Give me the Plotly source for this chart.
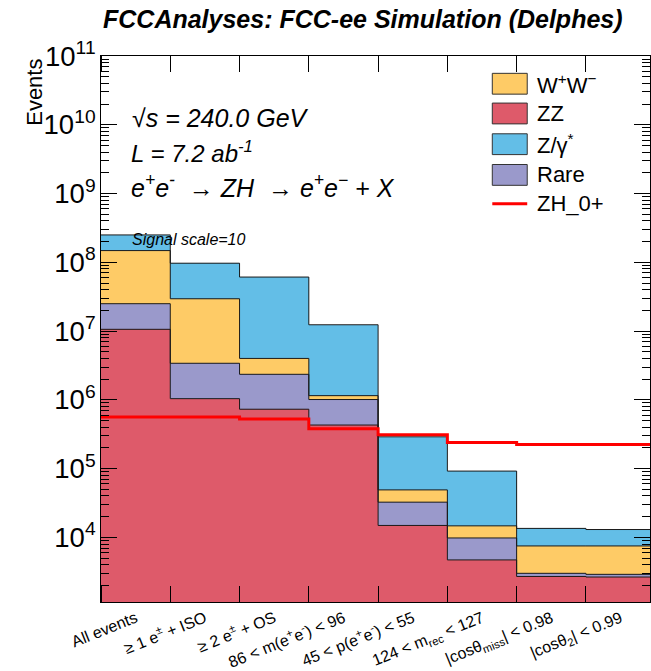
import numpy as np
import plotly.graph_objects as go

# ---------------- data ----------------
cut_labels = [
    "All events",
    "≥ 1 e<sup>±</sup> + ISO",
    "≥ 2 e<sup>±</sup> + OS",
    "86 &lt; m(e<sup>+</sup>e<sup>-</sup>) &lt; 96",
    "45 &lt; p(e<sup>+</sup>e<sup>-</sup>) &lt; 55",
    "124 &lt; m<sub>rec</sub> &lt; 127",
    "|cosθ<sub>miss</sub>| &lt; 0.98",
    "|cosθ<sub>2</sub>| &lt; 0.99",
]
zz_vals = [1.06e7, 1.04e6, 7.3e5, 4.3e5, 1.49e4, 4.7e3, 2.7e3, 2.65e3]
rare_vals = [1.44e7, 2.36e6, 1.62e6, 5.8e5, 1.76e4, 5.1e3, 3.0e2, 2.5e2]
ww_vals = [1.23e8, 2.61e7, 1.65e6, 1.4e5, 1.65e4, 4.9e3, 4.5e3, 4.6e3]
zgamma_vals = [1.02e8, 6.75e7, 5.7e7, 1.12e7, 2.41e5, 7.73e4, 6.0e3, 5.5e3]
signal_vals = [5.64e5, 5.64e5, 5.27e5, 3.79e5, 3.10e5, 2.40e5, 2.25e5, 2.25e5]

# ---------------- styling ----------------
FONT = "Liberation Sans, Arial, Helvetica, sans-serif"
C_ZZ = "#DE5A6A"
C_RARE = "#9A99CB"
C_WW = "#FECB66"
C_ZG = "#63BEE7"
C_SIG = "#FF0000"

W, H = 651, 671
L, R, T, B = 101, 651, 56, 607


def px(x):
    return (x - L) / (R - L)


def py(y):
    return (B - y) / (B - T)


n = len(cut_labels)
centers = np.arange(n) + 0.5
edges = np.arange(n + 1)

fig = go.Figure()

stack = [("ZZ", zz_vals, C_ZZ), ("Rare", rare_vals, C_RARE),
         ("W+W-", ww_vals, C_WW), ("Z/gamma*", zgamma_vals, C_ZG)]
for name, vals, col in stack:
    fig.add_trace(go.Bar(x=centers, y=vals, width=1, name=name,
                         marker=dict(color=col, line=dict(width=0)),
                         showlegend=False))

cum = np.cumsum(np.array([s[1] for s in stack]), axis=0)
for row in cum[::-1]:
    fig.add_trace(go.Scatter(x=edges, y=np.append(row, row[-1]), mode="lines",
                             line=dict(color="#1a1a1a", width=1, shape="hv"),
                             showlegend=False, hoverinfo="skip"))

fig.add_trace(go.Scatter(x=edges, y=np.append(signal_vals, signal_vals[-1]),
                         mode="lines", name="ZH_0+",
                         line=dict(color=C_SIG, width=3, shape="hv"),
                         showlegend=False))

fig.update_layout(
    width=W, height=H,
    margin=dict(l=L, r=W - R, t=T, b=H - B),
    paper_bgcolor="white", plot_bgcolor="white",
    barmode="stack", bargap=0,
    font=dict(family=FONT, color="black"),
    showlegend=False,
)

fig.update_xaxes(
    range=[0, (R - L) / 69.4],
    tickmode="array", tickvals=centers, ticktext=cut_labels,
    ticks="", tickangle=-22, tickfont=dict(size=16, family=FONT),
    showline=True, linecolor="black", linewidth=1, mirror="ticks",
    showgrid=False, zeroline=False,
    minor=dict(tickmode="linear", tick0=0, dtick=1, ticks="inside",
               ticklen=16, tickcolor="black", showgrid=False),
)
fig.update_yaxes(
    type="log", range=[3.06, 11], dtick=1, exponentformat="power",
    ticks="inside", ticklen=16, tickcolor="black",
    tickfont=dict(size=22, family=FONT),
    showline=True, linecolor="black", linewidth=1, mirror="ticks",
    showgrid=False, zeroline=False,
    minor=dict(ticks="inside", ticklen=8, tickcolor="black", showgrid=False),
)

anns = []


def ann(text, x, y, size, xanchor="left", yanchor="middle", angle=0):
    anns.append(dict(text=text, x=px(x), y=py(y), xref="paper", yref="paper",
                     xanchor=xanchor, yanchor=yanchor, showarrow=False,
                     textangle=angle, font=dict(size=size, family=FONT, color="black")))


ann("<b><i>FCCAnalyses: FCC-ee Simulation (Delphes)</i></b>", 363, 19, 25, xanchor="center")
ann("Events", 35, 93, 22, xanchor="center", angle=-90)
ann("<i>√s = 240.0 GeV</i>", 130, 119, 25)
ann("<i>L = 7.2 ab<sup>-1</sup></i>", 129, 153, 24)
ann("<i>e<sup>+</sup>e<sup>-</sup>&nbsp; → ZH&nbsp; → e<sup>+</sup>e<sup>−</sup> + X</i>", 129, 187, 25)
ann("<i>Signal scale=10</i>", 130, 241, 16)

legend_items = [("W<sup>+</sup>W<sup>−</sup>", C_WW, 84),
                ("ZZ", C_ZZ, 114),
                ("Z/γ<sup>*</sup>", C_ZG, 145),
                ("Rare", C_RARE, 176)]
shapes = []
for txt, col, yc in legend_items:
    shapes.append(dict(type="rect", xref="paper", yref="paper",
                       x0=px(493), x1=px(528), y0=py(yc + 10.5), y1=py(yc - 10.5),
                       fillcolor=col, line=dict(color="#333333", width=1)))
    ann(txt, 536, yc, 22)
shapes.append(dict(type="line", xref="paper", yref="paper",
                   x0=px(493), x1=px(528), y0=py(205), y1=py(205),
                   line=dict(color=C_SIG, width=3)))
ann("ZH_0+", 536, 205, 22)

fig.update_layout(annotations=anns, shapes=shapes)

fig.write_html(
    "out.html",
    config={"displayModeBar": False},
    post_script="document.body.style.margin='0px';document.body.style.overflow='hidden';",
)
